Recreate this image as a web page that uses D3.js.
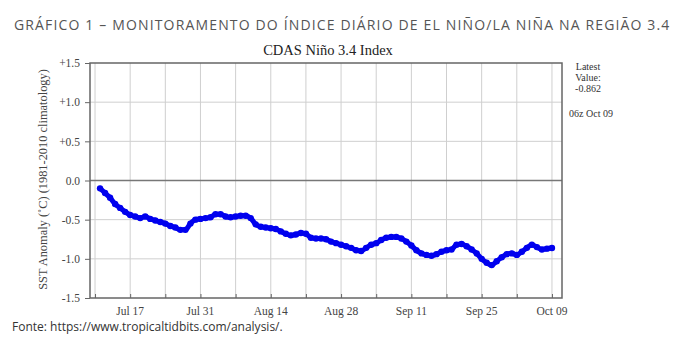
<!DOCTYPE html>
<html><head><meta charset="utf-8">
<script src="https://cdn.jsdelivr.net/npm/d3@7"></script>
<style>body{margin:0;background:#fff}svg{display:block}</style>
</head><body>
<svg id="c" width="682" height="360"></svg>
<script>
const startDate = "2023-07-11";
const values = [-0.10,-0.16,-0.22,-0.30,-0.35,-0.40,-0.44,-0.46,-0.48,-0.46,
-0.49,-0.51,-0.53,-0.55,-0.58,-0.60,-0.63,-0.63,-0.55,-0.50,
-0.49,-0.48,-0.47,-0.43,-0.43,-0.46,-0.47,-0.46,-0.45,-0.45,
-0.48,-0.56,-0.59,-0.60,-0.61,-0.62,-0.65,-0.68,-0.70,-0.69,
-0.67,-0.68,-0.73,-0.74,-0.74,-0.75,-0.78,-0.80,-0.82,-0.84,
-0.86,-0.89,-0.90,-0.86,-0.82,-0.80,-0.76,-0.73,-0.72,-0.72,
-0.74,-0.78,-0.83,-0.89,-0.93,-0.95,-0.96,-0.94,-0.91,-0.89,
-0.88,-0.82,-0.81,-0.84,-0.88,-0.93,-1.00,-1.05,-1.08,-1.03,
-0.98,-0.94,-0.93,-0.95,-0.91,-0.86,-0.82,-0.85,-0.88,-0.87,-0.862];
const yTicks = [1.5,1.0,0.5,0.0,-0.5,-1.0,-1.5];
const yTickLabels = ["+1.5","+1.0","+0.5","0.0","-0.5","-1.0","-1.5"];
const xLabelDates = ["2023-07-17","2023-07-31","2023-08-14","2023-08-28","2023-09-11","2023-09-25","2023-10-09"];
const xLabels = ["Jul 17","Jul 31","Aug 14","Aug 28","Sep 11","Sep 25","Oct 09"];
const header = "GRÁFICO 1 – MONITORAMENTO DO ÍNDICE DIÁRIO DE EL NIÑO/LA NIÑA NA REGIÃO 3.4";
const title = "CDAS Niño 3.4 Index";
const yLabel = "SST Anomaly (˚C) (1981-2010 climatology)";
const sideText = ["Latest","Value:","-0.862"];
const sideDate = "06z Oct 09";
const source = "Fonte: https://www.tropicaltidbits.com/analysis/.";

const parse = d3.utcParse("%Y-%m-%d");
const t0 = parse(startDate);
const data = values.map((v,i)=>({d:d3.utcDay.offset(t0,i), v}));

const L=90,R=562,T=63,B=298;
const x = d3.scaleUtc().domain([parse("2023-07-09"), parse("2023-10-11")]).range([L,R]);
const y = d3.scaleLinear().domain([-1.5,1.5]).range([B,T]);
const svg = d3.select("#c");
const serif = "'Liberation Serif','DejaVu Serif',serif";

svg.append("text").attr("x",14).attr("y",30).attr("font-family","'Open Sans',sans-serif")
  .attr("font-size",14).attr("letter-spacing",1.15).attr("fill","#555").text(header);

svg.append("text").attr("x",(L+R)/2+2).attr("y",55).attr("text-anchor","middle")
  .attr("font-family",serif).attr("font-size",14.5).attr("fill","#222").text(title);

// weekly grid
const weeks = d3.utcDays(parse("2023-07-10"), parse("2023-10-11"), 7);
svg.append("g").selectAll("line").data(weeks).join("line")
  .attr("x1",d=>x(d)).attr("x2",d=>x(d)).attr("y1",T).attr("y2",B)
  .attr("stroke","#cfcfcf").attr("stroke-width",1);
svg.append("g").selectAll("line").data(yTicks.filter(v=>v!==0 && Math.abs(v)!==1.5)).join("line")
  .attr("x1",L).attr("x2",R).attr("y1",d=>y(d)).attr("y2",d=>y(d))
  .attr("stroke","#cfcfcf").attr("stroke-width",1);
svg.append("line").attr("x1",L).attr("x2",R).attr("y1",y(0)).attr("y2",y(0))
  .attr("stroke","#777").attr("stroke-width",1.5);

// frame
svg.append("rect").attr("x",L).attr("y",T).attr("width",R-L).attr("height",B-T)
  .attr("fill","none").attr("stroke","#666").attr("stroke-width",1.5);

// y axis
const yAxis = d3.axisLeft(y).tickValues(yTicks).tickSize(5).tickPadding(5)
  .tickFormat((d,i)=>yTickLabels[i]);
const gy = svg.append("g").attr("transform",`translate(${L},0)`).call(yAxis);
gy.select(".domain").remove();
gy.selectAll("line").attr("stroke","#666");
gy.selectAll("text").attr("font-family",serif).attr("font-size",11.5).attr("fill","#444");

// x axis
const xAxis = d3.axisBottom(x).tickValues(weeks).tickSize(4).tickFormat("");
const gx = svg.append("g").attr("transform",`translate(0,${B})`).call(xAxis);
gx.select(".domain").remove();
gx.selectAll("line").attr("stroke","#666").attr("y1",-4).attr("y2",0);
svg.append("g").selectAll("text").data(xLabelDates).join("text")
  .attr("x",d=>x(parse(d))).attr("y",315).attr("text-anchor","middle")
  .attr("font-family",serif).attr("font-size",11.5).attr("fill","#444")
  .text((d,i)=>xLabels[i]);

svg.append("text").attr("transform",`translate(47,${(T+B)/2-1}) rotate(-90)`)
  .attr("text-anchor","middle").attr("font-family",serif).attr("font-size",12.4)
  .attr("fill","#444").text(yLabel);

// series
const line = d3.line().x(d=>x(d.d)).y(d=>y(d.v)).curve(d3.curveMonotoneX);
svg.append("path").datum(data).attr("d",line).attr("fill","none")
  .attr("stroke","#0000ee").attr("stroke-width",5).attr("stroke-linecap","round");
svg.append("g").selectAll("circle").data(data).join("circle")
  .attr("cx",d=>x(d.d)).attr("cy",d=>y(d.v)).attr("r",3.2)
  .attr("fill","#0000ee");

// side text
svg.append("g").selectAll("text").data(sideText).join("text")
  .attr("x",588).attr("y",(d,i)=>70+i*11).attr("text-anchor","middle")
  .attr("font-family",serif).attr("font-size",10).attr("fill","#333").text(d=>d);
svg.append("text").attr("x",591).attr("y",117).attr("text-anchor","middle")
  .attr("font-family",serif).attr("font-size",10).attr("fill","#333").text(sideDate);

svg.append("text").attr("x",12).attr("y",331).attr("font-family","'Open Sans',sans-serif")
  .attr("font-size",12).attr("fill","#333").text(source);
</script>
</body></html>
